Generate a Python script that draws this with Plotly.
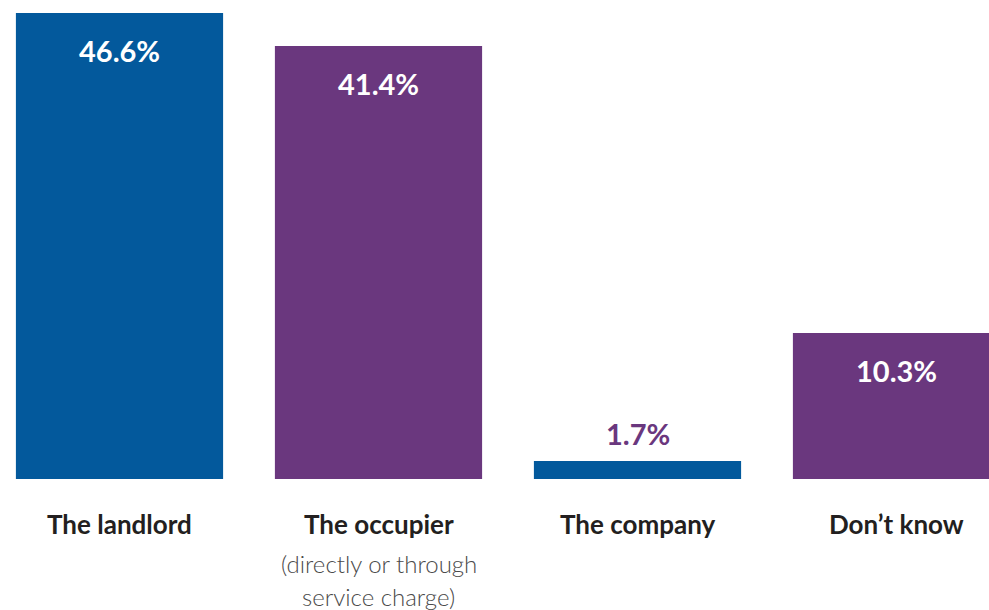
import plotly.graph_objects as go

# Data
categories = ["The landlord", "The occupier", "The company", "Don\u2019t know"]
subtitles = ["", "(directly or through<br>service charge)", "", ""]
values = [46.6, 41.4, 1.7, 10.3]            # printed percentages
bar_heights = [46.6, 43.3, 1.8, 14.6]       # drawn bar heights (as in the picture)
value_labels = ["46.6%", "41.4%", "1.7%", "10.3%"]

BLUE = "#03599C"
PURPLE = "#6A377E"
colors = [BLUE, PURPLE, BLUE, PURPLE]

xpos = list(range(len(categories)))

fig = go.Figure()
fig.add_trace(go.Bar(
    x=xpos, y=bar_heights, marker=dict(color=colors, line=dict(width=0)),
    width=0.8, hoverinfo="skip"))

FONT = "Lato"
annotations = []
for i, (h, lab) in enumerate(zip(bar_heights, value_labels)):
    inside = h > 5
    annotations.append(dict(
        x=xpos[i], y=h, xref="x", yref="y",
        text="<b>" + lab + "</b>", showarrow=False,
        yanchor="middle", yshift=-37 if inside else 28,
        font=dict(family=FONT, size=29, color="white" if inside else PURPLE)))
for i, (cat, sub) in enumerate(zip(categories, subtitles)):
    annotations.append(dict(
        x=xpos[i], y=0, xref="x", yref="paper",
        text="<b>" + cat + "</b>", showarrow=False,
        yanchor="middle", yshift=-45,
        font=dict(family=FONT, size=26, color="#231F20")))
    if sub:
        lines = sub.split("<br>")
        for j, ln in enumerate(lines):
            annotations.append(dict(
                x=xpos[i], y=0, xref="x", yref="paper",
                text=ln, showarrow=False,
                yanchor="middle", yshift=-84 - 33 * j,
                font=dict(family=FONT, size=24, color="#4A4A4A", weight=300)))

fig.update_layout(
    width=989, height=610,
    margin=dict(l=0, r=0, t=0, b=131),
    paper_bgcolor="white", plot_bgcolor="white",
    showlegend=False,
    xaxis=dict(range=[-119.5 / 259, (989 - 119.5) / 259], visible=False, fixedrange=True),
    yaxis=dict(range=[0, 47.9], visible=False, fixedrange=True),
    annotations=annotations,
)

fig.write_html("out.html")
